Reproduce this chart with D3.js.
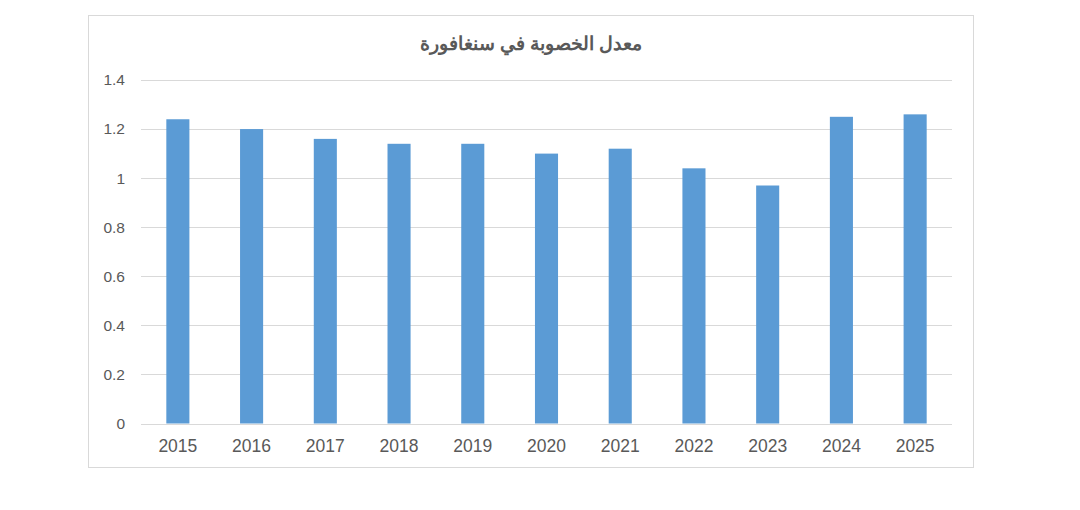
<!DOCTYPE html>
<html>
<head>
<meta charset="utf-8">
<script src="https://cdn.jsdelivr.net/npm/d3@7"></script>
<style>
  body { margin: 0; background: #fff; }
  text { font-family: "Liberation Sans", Arial, sans-serif; fill: #595959; }
</style>
</head>
<body>
<div id="chart"></div>
<script>
// data
var years = ["2015", "2016", "2017", "2018", "2019", "2020", "2021", "2022", "2023", "2024", "2025"];
var rates = [1.24, 1.20, 1.16, 1.14, 1.14, 1.10, 1.12, 1.04, 0.97, 1.25, 1.26];
var yTicks = [0, 0.2, 0.4, 0.6, 0.8, 1, 1.2, 1.4];
var title = "معدل الخصوبة في سنغافورة";

var w = 1080, h = 510;
var plotLeft = 141, plotRight = 952, plotTop = 80, plotBottom = 423.5;

var svg = d3.select("#chart").append("svg")
    .attr("width", w)
    .attr("height", h);

// chart frame
svg.append("rect")
    .attr("x", 88.5).attr("y", 15.5)
    .attr("width", 885).attr("height", 452)
    .attr("fill", "#fff")
    .attr("stroke", "#d9d9d9");

var x = d3.scaleBand()
    .domain(years)
    .range([plotLeft, plotRight])
    .paddingInner(0.687)
    .paddingOuter(0.3435);

var y = d3.scaleLinear()
    .domain([0, 1.4])
    .range([plotBottom, plotTop]);

// gridlines
svg.append("g")
    .selectAll("line")
    .data(yTicks)
    .enter()
    .append("line")
    .attr("x1", plotLeft).attr("x2", plotRight)
    .attr("y1", function(d) { return Math.round(y(d)) + 0.5; })
    .attr("y2", function(d) { return Math.round(y(d)) + 0.5; })
    .attr("stroke", "#d9d9d9")
    .attr("stroke-width", 1);

// y labels
svg.append("g")
    .selectAll("text")
    .data(yTicks)
    .enter()
    .append("text")
    .attr("x", 125)
    .attr("y", function(d) { return y(d); })
    .attr("dy", "0.35em")
    .attr("text-anchor", "end")
    .attr("font-size", "15.5px")
    .text(function(d) { return d; });

// bars
svg.append("g")
    .selectAll("rect")
    .data(rates)
    .enter()
    .append("rect")
    .attr("x", function(d, i) { return x(years[i]); })
    .attr("width", x.bandwidth())
    .attr("y", function(d) { return y(d); })
    .attr("height", function(d) { return plotBottom - y(d); })
    .attr("fill", "#5b9bd5");

// x labels
svg.append("g")
    .selectAll("text")
    .data(years)
    .enter()
    .append("text")
    .attr("x", function(d) { return x(d) + x.bandwidth() / 2; })
    .attr("y", 452)
    .attr("text-anchor", "middle")
    .attr("font-size", "17.5px")
    .text(function(d) { return d; });

// title
svg.append("text")
    .attr("x", 531)
    .attr("y", 50)
    .attr("text-anchor", "middle")
    .attr("font-size", "19px")
    .attr("font-weight", "bold")
    .attr("direction", "rtl")
    .text(title);
</script>
</body>
</html>
